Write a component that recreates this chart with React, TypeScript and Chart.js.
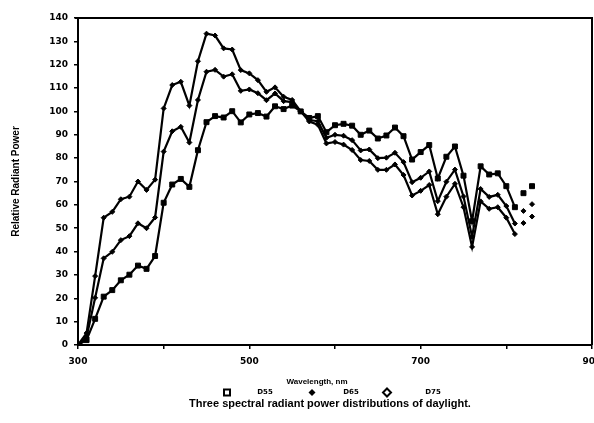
import { useEffect, useRef } from "react";
import { Chart, registerables } from "chart.js";

Chart.register(...registerables);

// Relative spectral power of three daylight illuminants, 10 nm steps
const wavelengths = [
  300, 310, 320, 330, 340, 350, 360, 370, 380, 390,
  400, 410, 420, 430, 440, 450, 460, 470, 480, 490,
  500, 510, 520, 530, 540, 550, 560, 570, 580, 590,
  600, 610, 620, 630, 640, 650, 660, 670, 680, 690,
  700, 710, 720, 730, 740, 750, 760, 770, 780, 790,
  800, 810, 820, 830,
];

const d55 = [
  0.0, 2.1, 11.2, 20.7, 23.5, 27.7, 30.1, 34.0, 32.6, 38.1,
  60.9, 68.7, 71.1, 67.7, 83.4, 95.4, 98.0, 97.4, 100.1, 95.3,
  98.7, 99.3, 97.8, 102.2, 101.0, 102.5, 100.0, 97.2, 98.0, 91.1,
  94.1, 94.7, 93.9, 90.0, 91.8, 88.4, 89.7, 93.1, 89.4, 79.4,
  82.6, 85.6, 71.3, 80.6, 85.0, 72.5, 53.0, 76.5, 73.0, 73.5,
  68.0, 59.0, 65.0, 68.0,
];

const d65 = [
  0.0, 3.3, 20.2, 37.1, 39.9, 44.9, 46.6, 52.1, 50.0, 54.6,
  82.8, 91.5, 93.4, 86.7, 104.9, 117.0, 117.8, 114.9, 115.9, 108.8,
  109.4, 107.8, 104.8, 107.7, 104.4, 104.0, 100.0, 96.3, 95.8, 88.7,
  90.0, 89.6, 87.7, 83.3, 83.7, 80.0, 80.2, 82.3, 78.3, 69.7,
  71.6, 74.3, 61.6, 69.9, 75.1, 63.6, 46.4, 66.8, 63.4, 64.3,
  59.5, 52.0, 57.4, 60.3,
];

const d75 = [
  0.0, 5.1, 29.5, 54.5, 57.0, 62.4, 63.5, 70.0, 66.4, 70.8,
  101.3, 111.3, 112.7, 102.5, 121.5, 133.3, 132.5, 127.0, 126.5, 117.7,
  116.3, 113.4, 108.4, 110.3, 106.3, 104.9, 100.0, 95.7, 94.3, 86.3,
  86.9, 85.8, 83.5, 79.2, 78.8, 75.0, 75.0, 77.3, 72.8, 64.0,
  66.0, 68.5, 56.0, 63.5, 69.0, 59.0, 42.0, 61.5, 58.3, 59.0,
  54.5, 47.5, 52.2, 55.0,
];

const xTickLabels = [300, 500, 700, 900];
const seriesNames = ["D55", "D65", "D75"];
const xTitle = "Wavelength, nm";
const yTitle = "Relative Radiant Power";
const caption = "Three spectral radiant power distributions of daylight.";

const FAMILY = "'Liberation Sans', Arial, sans-serif";
const HEAVY = "'DejaVu Sans', 'Liberation Sans', sans-serif";
const INK = "#000";

export default function App() {
  const canvasRef = useRef<HTMLCanvasElement>(null);

  useEffect(() => {
    const canvas = canvasRef.current;
    if (!canvas) return;

    const toPoints = (vals: number[]) =>
      wavelengths.map((x, i) => ({ x, y: vals[i] }));

    // the last two samples are printed as loose points
    const lastJoined = 51;
    const segment = {
      borderColor: (c: any) =>
        c.p0DataIndex >= lastJoined ? "rgba(0,0,0,0)" : INK,
    };

    const makeSet = (label: string, vals: number[], style: string, r: number) => ({
      label,
      data: toPoints(vals),
      borderColor: INK,
      backgroundColor: INK,
      borderWidth: 2.2,
      pointStyle: style,
      pointRadius: r,
      pointBorderWidth: 1,
      pointBackgroundColor: INK,
      pointBorderColor: INK,
      tension: 0,
      segment,
    });

    const frame = {
      id: "frameAndNotes",
      afterDraw(chart: any) {
        const { ctx, chartArea } = chart;
        const { left, right, top, bottom } = chartArea;
        ctx.save();
        ctx.strokeStyle = INK;
        ctx.lineWidth = 2;
        ctx.beginPath();
        ctx.moveTo(left - 3, top);
        ctx.lineTo(right, top);
        ctx.lineTo(right, bottom);
        ctx.stroke();

        ctx.fillStyle = INK;
        ctx.textBaseline = "middle";
        ctx.textAlign = "center";

        ctx.font = `bold 8px ${FAMILY}`;
        ctx.fillText(xTitle, 317, 382);

        // legend row
        const ly = 392.5;
        ctx.lineWidth = 2;
        ctx.strokeRect(224, ly - 3, 6, 6);
        ctx.beginPath();
        ctx.moveTo(312, ly - 3.5);
        ctx.lineTo(315.5, ly);
        ctx.lineTo(312, ly + 3.5);
        ctx.lineTo(308.5, ly);
        ctx.closePath();
        ctx.fill();
        ctx.beginPath();
        ctx.moveTo(387, ly - 4);
        ctx.lineTo(391, ly);
        ctx.lineTo(387, ly + 4);
        ctx.lineTo(383, ly);
        ctx.closePath();
        ctx.stroke();

        ctx.font = `bold 7px ${HEAVY}`;
        ctx.fillText(seriesNames[0], 265, ly);
        ctx.fillText(seriesNames[1], 351, ly);
        ctx.fillText(seriesNames[2], 433, ly);

        ctx.font = `bold 11px ${FAMILY}`;
        ctx.fillText(caption, 330, 404);
        ctx.restore();
      },
    };

    const tickFont = { family: HEAVY, size: 9, weight: "bold" as const };

    const chart = new Chart(canvas, {
      type: "line",
      data: {
        datasets: [
          makeSet(seriesNames[0], d55, "rect", 3.5),
          makeSet(seriesNames[1], d65, "rectRot", 2.5),
          makeSet(seriesNames[2], d75, "rectRot", 2.5),
        ] as any,
      },
      options: {
        responsive: false,
        animation: false,
        devicePixelRatio: 1,
        layout: { padding: { top: 18, right: 2, left: 0, bottom: 0 }, autoPadding: false },
        plugins: { legend: { display: false }, tooltip: { enabled: false } },
        scales: {
          x: {
            type: "linear",
            min: 300,
            max: 900,
            afterFit: (s: any) => {
              s.height = 78;
              s.paddingLeft = 0;
              s.paddingRight = 0;
            },
            ticks: {
              stepSize: 100,
              autoSkip: false,
              maxRotation: 0,
              padding: 7,
              color: INK,
              font: tickFont,
              callback: (v: any) => (xTickLabels.includes(Number(v)) ? String(v) : ""),
            },
            grid: { drawOnChartArea: false, tickLength: 4, color: INK, lineWidth: 1.5 },
            border: { color: INK, width: 2 },
          },
          y: {
            min: 0,
            max: 140,
            afterFit: (s: any) => {
              s.width = 78;
            },
            ticks: {
              stepSize: 10,
              autoSkip: false,
              padding: 6,
              color: INK,
              font: tickFont,
            },
            grid: { drawOnChartArea: false, tickLength: 4, color: INK, lineWidth: 1.5 },
            border: { color: INK, width: 2 },
            title: {
              display: true,
              text: yTitle,
              color: INK,
              font: { family: FAMILY, size: 10, weight: "bold" },
              padding: { top: 10, bottom: 0 },
            },
          },
        },
      },
      plugins: [frame],
    });

    return () => chart.destroy();
  }, []);

  return (
    <div style={{ position: "fixed", left: 0, top: 0, width: 594, height: 423, background: "#fff" }}>
      <canvas ref={canvasRef} width={594} height={423} style={{ width: 594, height: 423, display: "block" }} />
    </div>
  );
}
